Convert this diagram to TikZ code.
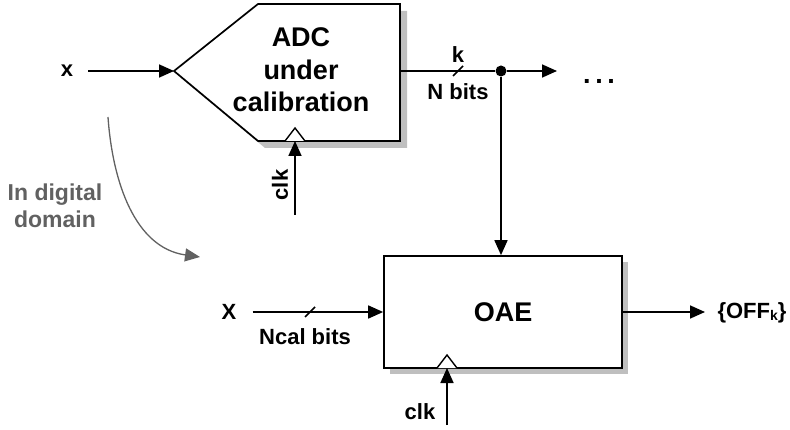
\documentclass[tikz,border=0pt]{standalone}
\usepackage{fontspec}
\setmainfont{Liberation Sans}
\usetikzlibrary{arrows.meta,positioning}

\definecolor{shadowgray}{gray}{0.75}
\definecolor{notegray}{gray}{0.38}

\tikzset{
  sig/.style={line width=1.7pt, -{Triangle[length=15pt,width=13pt]}},
  wire/.style={line width=1.7pt},
  lbl/.style={font=\fontsize{22}{24}\selectfont\bfseries, inner sep=0pt},
  big/.style={font=\fontsize{27}{32.5}\selectfont\bfseries, align=center},
  blk/.style={draw, line width=1.7pt, fill=white},
  clock/.style={draw, line width=1.4pt, fill=white, line join=miter},
}

\begin{document}
\begin{tikzpicture}[x=1pt, y=-1pt]
    \useasboundingbox (0,0) rectangle (790,430);

    % ADC block
    \coordinate (adcin) at (174,71);
    \coordinate (adcout) at (400,71);
    \coordinate (adcclk) at (295,141);
    \fill[shadowgray] (181,78) -- (265,11) -- (407,11) -- (407,148) -- (265,148) -- cycle;
    \draw[blk] (adcin) -- (258,4) -- (400,4) -- (400,141) -- (258,141) -- cycle;
    \node[big] (adc) at (301,70) {ADC\\under\\calibration};
    \draw[clock] ([xshift=-10pt]adcclk) -- ([yshift=13pt]adcclk) -- ([xshift=10pt]adcclk);

    \node[lbl] (xin) at (67,71) {x};
    \draw[sig] ([xshift=15pt]xin.east) -- (adcin);

    \node[lbl, rotate=90] (clk1) at (280,185) {clk};
    \coordinate (clk1src) at (295,215);
    \draw[sig] (clk1src) -- (adcclk);

    % output bus
    \node[circle, fill, inner sep=0pt, minimum size=11pt] (dot) at (501,71) {};
    \coordinate (adcnext) at (557,71);
    \coordinate (kslash) at (458,71);
    \draw[wire] (adcout) -- (dot);
    \draw[sig] (dot) -- (adcnext);
    \draw[wire] ([shift={(-5,5)}]kslash) -- ([shift={(5,-5)}]kslash);
    \node[lbl] (k) at (458,55) {k};
    \node[lbl] (nbits) at (458,92) {N bits};
    \node[lbl, anchor=base, font=\fontsize{27}{30}\selectfont\bfseries] (more) at (599,84)
        {.\hspace{4.6pt}.\hspace{4.6pt}.};

    % OAE block
    \fill[shadowgray] (390,262) rectangle (628,374);
    \node[blk, minimum width=238pt, minimum height=112pt,
          font=\fontsize{27}{32}\selectfont\bfseries] (oae) at (503,312) {OAE};
    \draw[sig] (dot) -- (oae.north -| dot);

    \coordinate (oaeclk) at (447,368);
    \draw[clock] ([xshift=-10pt]oaeclk) -- ([yshift=13pt]oaeclk) -- ([xshift=10pt]oaeclk);
    \coordinate (clk2src) at (447,425);
    \draw[sig] (clk2src) -- (oaeclk);
    \node[lbl] (clk2) at (420,412) {clk};

    \node[lbl] (X) at (229,312) {X};
    \coordinate (xslash) at (310,312);
    \draw[sig] ([xshift=16pt]X.east) -- (oae.west);
    \draw[wire] ([shift={(-5,5)}]xslash) -- ([shift={(5,-5)}]xslash);
    \node[lbl] (ncal) at (305,337) {Ncal bits};

    \node[lbl] (off) at (752,313) {\{OFF\raisebox{-2pt}{\fontsize{14}{14}\selectfont k}\}};
    \coordinate (offin) at (705,312);
    \draw[sig] (oae.east) -- (offin);

    % note
    \node[lbl, text=notegray, align=center, font=\fontsize{23}{27}\selectfont\bfseries] (note) at (55,206) {In digital\\domain};
    \coordinate (bendfrom) at (108,117);
    \coordinate (bendto) at (200,257);
    \draw[notegray, line width=1.3pt, -{Triangle[length=15pt,width=13pt]}]
        (bendfrom) to[out=-86, in=172] (bendto);
\end{tikzpicture}
\end{document}
